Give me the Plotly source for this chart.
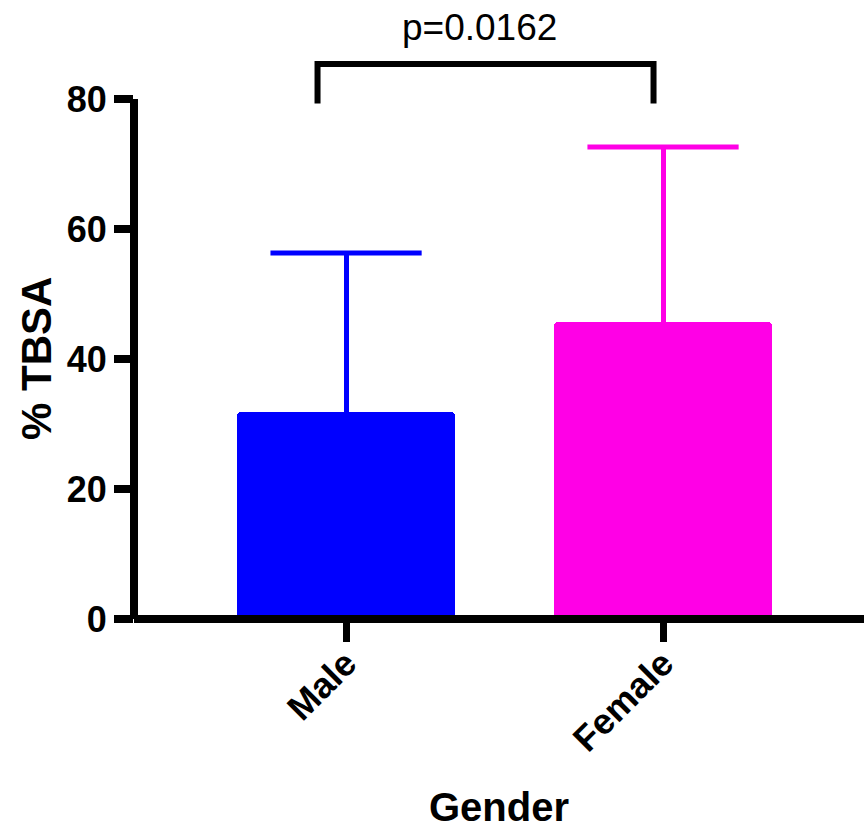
import plotly.graph_objects as go

categories = ["Male", "Female"]
means = [31.8, 45.7]
sds = [24.5, 26.9]
bar_colors = ["#0000FF", "#FF00E6"]
y_ticks = [0, 20, 40, 60, 80]
p_label = "p=0.0162"
bracket_x = [-0.09, 0.97]
bracket_y = [79.3, 85.4]

FONT = "Liberation Sans, Arial, sans-serif"

fig = go.Figure()
for i, (cat, m, s, c) in enumerate(zip(categories, means, sds, bar_colors)):
    fig.add_trace(go.Bar(
        x=[i], y=[m], width=0.69,
        marker=dict(color=c, line=dict(width=0), cornerradius=4),
        error_y=dict(type="data", array=[s], arrayminus=[0], symmetric=False,
                     color=c, thickness=5, width=0),
        showlegend=False,
    ))
    # error bar cap
    fig.add_trace(go.Scatter(
        x=[i], y=[m + s], mode="markers",
        marker=dict(symbol="line-ew", size=108, color=c, line=dict(width=5, color=c)),
        showlegend=False, hoverinfo="skip", cliponaxis=False,
    ))

# axis lines
fig.add_shape(type="line", xref="paper", yref="y", x0=0, x1=0, y0=0, y1=y_ticks[-1],
              line=dict(color="black", width=8))
fig.add_shape(type="line", xref="paper", yref="paper", x0=0, x1=1, y0=0, y1=0,
              line=dict(color="black", width=8))

# significance bracket
fig.add_shape(type="path", xref="x", yref="y",
              path=f"M{bracket_x[0]},{bracket_y[0]} L{bracket_x[0]},{bracket_y[1]} "
                   f"L{bracket_x[1]},{bracket_y[1]} L{bracket_x[1]},{bracket_y[0]}",
              line=dict(color="black", width=6))
fig.add_annotation(x=sum(bracket_x) / 2 - 0.02, y=bracket_y[1] + 2.2, xref="x", yref="y",
                   text=p_label, showarrow=False, yanchor="bottom",
                   font=dict(family=FONT, size=37, color="black"))

# y-axis title
fig.add_annotation(x=0, xref="paper", xshift=-98, y=y_ticks[-1] / 2, yref="y",
                   text="<b>% TBSA</b>", textangle=-90, showarrow=False,
                   xanchor="center", yanchor="middle",
                   font=dict(family=FONT, size=42, color="black"))

fig.update_layout(
    width=864, height=829,
    margin=dict(l=134, r=0, t=34, b=210),
    plot_bgcolor="white", paper_bgcolor="white",
    font=dict(family=FONT, color="black"),
    bargap=0,
)
fig.update_xaxes(
    range=[-0.669, 1.634], tickvals=[0, 1], ticktext=categories,
    tickangle=-45, ticks="outside", ticklen=22, tickwidth=7, tickcolor="black",
    showline=False, showgrid=False, zeroline=False, ticklabelstandoff=-14,
    tickfont=dict(family=FONT, size=36, color="black", weight="bold"),
    title=dict(text="<b>Gender</b>", font=dict(family=FONT, size=40, color="black"), standoff=34),
)
fig.update_yaxes(
    range=[0, 90], tickvals=y_ticks, ticktext=[str(v) for v in y_ticks],
    ticks="outside", ticklen=19, tickwidth=8, tickcolor="black",
    showline=False, showgrid=False, zeroline=False,
    tickfont=dict(family=FONT, size=36, color="black", weight="bold"),
)

fig.write_html("out.html")
